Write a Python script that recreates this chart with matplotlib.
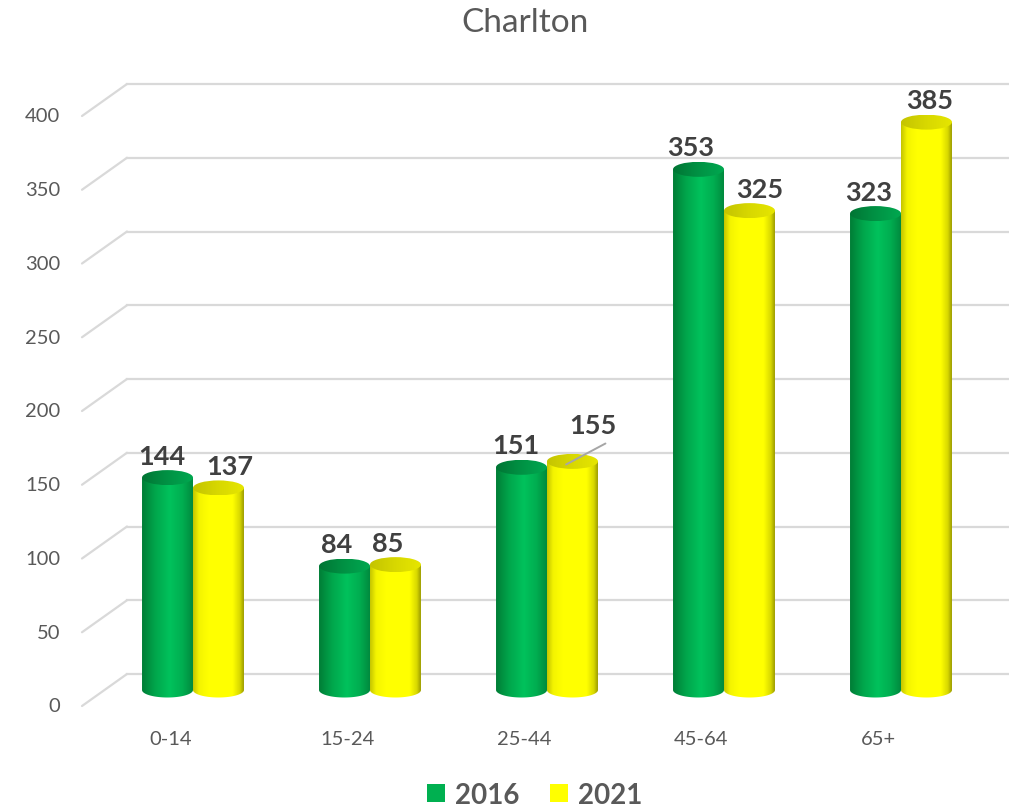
import numpy as np
import matplotlib.pyplot as plt
from matplotlib.patches import Ellipse, PathPatch, Patch, ConnectionPatch
from matplotlib.path import Path
from matplotlib.colors import LinearSegmentedColormap
from matplotlib.transforms import offset_copy

plt.rcParams['font.family'] = ['Lato', 'DejaVu Sans']

# data
categories = ['0-14', '15-24', '25-44', '45-64', '65+']
values_2016 = [144, 84, 151, 353, 323]
values_2021 = [137, 85, 155, 325, 385]
series_names = ['2016', '2021']
yticks = [0, 50, 100, 150, 200, 250, 300, 350, 400]

# small nudges (pixels) for the value labels, as placed in the original
nudge_2016 = [-6, -8, -6, -8, -7]
nudge_2021 = [11, -8, 20, 10, 3]

text_grey = '#595959'
label_grey = '#404040'
grid_grey = '#d9d9d9'

green_body = LinearSegmentedColormap.from_list('gb', [(0, '#007d36'), (0.25, '#00a54b'), (0.55, '#00c25c'), (0.8, '#00ad50'), (1, '#008a3e')])
green_top = LinearSegmentedColormap.from_list('gt', [(0, '#007534'), (0.5, '#009244'), (1, '#00a850')])
yellow_body = LinearSegmentedColormap.from_list('yb', [(0, '#c4c400'), (0.12, '#f4f400'), (0.3, '#ffff00'), (0.78, '#ffff00'), (0.92, '#d8d800'), (1, '#9c9c00')])
yellow_top = LinearSegmentedColormap.from_list('yt', [(0, '#c4c400'), (0.5, '#d8d800'), (1, '#e6e600')])

# axes = the mid-depth plane of the 3D chart; y range goes a bit below 0
# so the rounded bar bottoms are not cut off
y_low = -20
px_per_unit = 590 / 400
ax_h = (400 - y_low) * px_per_unit
fig = plt.figure(figsize=(10.09, 8.12), dpi=100)
ax = fig.add_axes([104.5 / 1009, (121 + y_low * px_per_unit) / 812, 885 / 1009, ax_h / 812])
ax.axis('off')

back = offset_copy(ax.transData, fig=fig, x=22.5, y=16, units='dots')
front = offset_copy(ax.transData, fig=fig, x=-22.5, y=-16, units='dots')

# perspective gridlines
for v in yticks:
    ax.plot([-0.5, 4.5], [v, v], transform=back, color=grid_grey, lw=1.6, clip_on=False, zorder=1)
    con = ConnectionPatch(xyA=(-0.5, v), coordsA=front, xyB=(-0.5, v), coordsB=back,
                          color=grid_grey, lw=1.6, zorder=1)
    ax.add_artist(con)
    ax.annotate(str(v), xy=(-0.5, v), xycoords=front, xytext=(-22, 0), textcoords='offset pixels',
                ha='right', va='center', fontsize=14.5, color=text_grey, annotation_clip=False)

for i, c in enumerate(categories):
    ax.annotate(c, xy=(i, 0), xycoords=front, xytext=(0, -33), textcoords='offset pixels',
                ha='center', va='center', fontsize=14.5, color=text_grey, annotation_clip=False)

bar_w = 0.288
cap_h = 15 / px_per_unit
grad = np.linspace(0, 1, 256).reshape(1, -1)


def cylinder(xc, v, body_cmap, top_cmap, z):
    x0, x1 = xc - bar_w / 2, xc + bar_w / 2
    t = np.linspace(np.pi, 2 * np.pi, 60)
    arc = np.column_stack([xc + bar_w / 2 * np.cos(t), cap_h / 2 * np.sin(t)])
    verts = np.vstack([[x0, v], arc, [x1, v], [x0, v]])
    body = PathPatch(Path(verts), transform=ax.transData)
    im = ax.imshow(grad, cmap=body_cmap, extent=[x0, x1, -cap_h / 2, v], aspect='auto',
                   interpolation='bilinear', zorder=z)
    im.set_clip_path(body)
    top = Ellipse((xc, v), bar_w, cap_h, transform=ax.transData)
    im2 = ax.imshow(grad, cmap=top_cmap, extent=[x0, x1, v - cap_h / 2, v + cap_h / 2], aspect='auto',
                    interpolation='bilinear', zorder=z + 0.1)
    im2.set_clip_path(top)


for i in range(len(categories)):
    cylinder(i - bar_w / 2, values_2016[i], green_body, green_top, 3 + i * 0.5)
    cylinder(i + bar_w / 2, values_2021[i], yellow_body, yellow_top, 3.2 + i * 0.5)

for i in range(len(categories)):
    for sign, vals, nud in [(-1, values_2016, nudge_2016), (1, values_2021, nudge_2021)]:
        xc = i + sign * bar_w / 2
        dy = 22
        if sign == 1 and i == 2:
            dy = 36
            ax.annotate('', xy=(xc - 0.05, vals[i] - 3), xytext=(xc + 0.2, vals[i] + 13),
                        arrowprops=dict(arrowstyle='-', color='#a6a6a6', lw=1.4), zorder=20)
        ax.annotate(str(vals[i]), xy=(xc, vals[i]), xytext=(nud[i], dy), textcoords='offset pixels',
                    ha='center', va='center', fontsize=19.5, fontweight='bold', color=label_grey,
                    annotation_clip=False, zorder=21)

ax.set_xlim(-0.5, 4.5)
ax.set_ylim(y_low, 400)

fig.text(0.52, 0.972, 'Charlton', ha='center', va='center', fontsize=24, color=text_grey)

handles = [Patch(facecolor='#00b050'), Patch(facecolor='#ffff00')]
fig.legend(handles, series_names, loc='center', bbox_to_anchor=(0.53, 0.02), ncol=2, frameon=False,
           prop={'size': 20, 'weight': 'bold'}, labelcolor=text_grey, handlelength=0.65, handleheight=0.65,
           handletextpad=0.35, columnspacing=1.1)

fig.savefig('out.png', dpi=100)
